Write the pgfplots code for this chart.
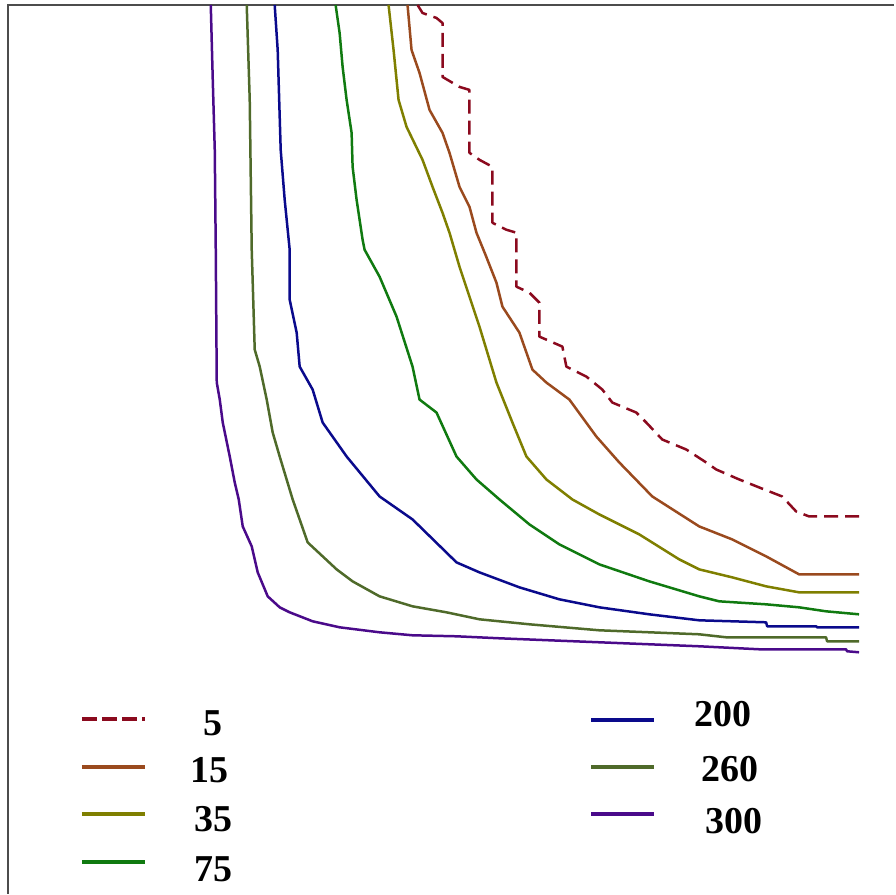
\documentclass[border=0pt]{standalone}
\usepackage{pgfplots}
\pgfplotsset{compat=1.18}
\usepackage{fontspec}
\setmainfont{Liberation Serif}
\definecolor{c5}{HTML}{8B0A1E}
\definecolor{c15}{HTML}{9A4A1E}
\definecolor{c35}{HTML}{7F7F00}
\definecolor{c75}{HTML}{107A10}
\definecolor{c200}{HTML}{0A0A8C}
\definecolor{c260}{HTML}{4F6A2A}
\definecolor{c300}{HTML}{4A0A8A}
\begin{document}
\begin{tikzpicture}
\begin{axis}[
  hide axis, scale only axis, width=895pt, height=895pt,
  xmin=0, xmax=895, ymin=0, ymax=895, y dir=reverse, clip=false,
  every axis plot/.append style={line width=2.5pt, line join=round},
]
\path (axis cs:0,0) rectangle (axis cs:895,895);
\draw[line width=2pt, color=black!70] (axis cs:895,5) -- (axis cs:8,5) -- (axis cs:8,895);
% 300
\addplot[c300] coordinates {(211,5) (213,80) (215,150) (216,250) (217,383) (220,400) (223,423) (230,457) (235,483) (239,500) (243,527) (252,547) (258,573) (268,597) (280,608) (290,613) (313,622) (340,628) (380,633) (413,636) (457,637) (500,639) (600,643) (700,647) (760,650) (847,650) (848,652) (860,653)};
% 260
\addplot[c260] coordinates {(247,5) (250,100) (252,250) (253,283) (255,350) (260,367) (267,400) (273,433) (280,457) (293,500) (308,543) (337,570) (353,582) (380,597) (413,607) (447,613) (480,620) (530,625) (600,631) (700,635) (727,638) (827,638) (828,642) (860,642)};
% 200
\addplot[c200] coordinates {(275,5) (278,50) (281,150) (285,200) (290,250) (290,300) (297,333) (300,367) (313,390) (323,423) (347,457) (380,497) (413,520) (457,563) (480,573) (520,588) (560,600) (600,608) (650,615) (700,621) (767,623) (768,627) (817,627) (818,628) (860,628)};
% 75
\addplot[c75] coordinates {(336,5) (340,33) (343,67) (347,100) (352,133) (353,167) (357,200) (363,240) (365,250) (380,277) (397,317) (413,367) (420,400) (437,413) (457,457) (477,480) (500,500) (530,525) (560,545) (600,565) (650,582) (700,597) (720,602) (767,605) (800,608) (827,612) (860,615)};
% 35
\addplot[c35] coordinates {(389,5) (394,50) (399,100) (407,127) (423,160) (433,187) (443,213) (450,233) (460,267) (470,297) (480,327) (497,383) (513,423) (527,457) (547,480) (573,500) (600,515) (640,535) (680,560) (700,570) (733,578) (767,587) (800,593) (860,593)};
% 15
\addplot[c15] coordinates {(408,5) (412,50) (420,73) (430,110) (443,133) (450,153) (460,187) (470,207) (477,233) (486,255) (497,283) (503,307) (520,333) (533,370) (547,383) (570,400) (597,437) (620,463) (653,497) (700,527) (733,540) (767,557) (800,575) (860,575)};
% 5
\addplot[c5, dash pattern=on 14pt off 7pt] coordinates {(418,5) (423,13) (437,18) (443,23) (443,77) (460,87) (470,90) (470,153) (480,160) (493,167) (493,223) (507,230) (517,233) (517,287) (530,293) (540,303) (540,337) (563,347) (567,367) (587,377) (603,390) (613,403) (637,413) (647,423) (663,440) (687,450) (707,463) (717,470) (740,480) (760,488) (783,497) (797,512) (810,517) (860,517)};
% legend samples
\addplot[c5, line width=3.5pt, dash pattern=on 15pt off 5pt] coordinates {(82,720) (145,720)};
\addplot[c15, line width=3.5pt] coordinates {(82,768) (145,768)};
\addplot[c35, line width=3.5pt] coordinates {(82,815) (145,815)};
\addplot[c75, line width=3.5pt] coordinates {(82,863) (145,863)};
\addplot[c200, line width=3.5pt] coordinates {(592,721) (655,721)};
\addplot[c260, line width=3.5pt] coordinates {(592,768) (655,768)};
\addplot[c300, line width=3.5pt] coordinates {(592,815) (655,815)};
\begin{scope}[every node/.style={font=\fontsize{38}{40}\selectfont\bfseries, inner sep=0pt}]
\node at (axis cs:213,724) {5};
\node at (axis cs:210,771) {15};
\node at (axis cs:214,820) {35};
\node at (axis cs:214,870) {75};
\node at (axis cs:724,715) {200};
\node at (axis cs:731,770) {260};
\node at (axis cs:735,822) {300};
\end{scope}
\end{axis}
\end{tikzpicture}
\end{document}
